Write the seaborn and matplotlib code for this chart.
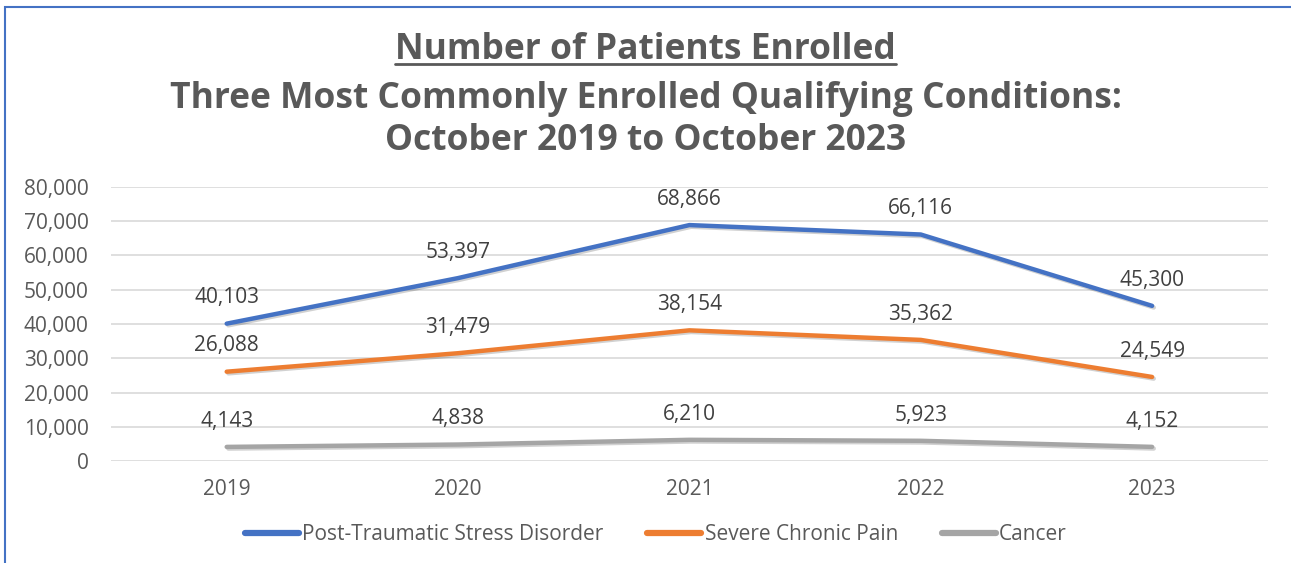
import matplotlib
matplotlib.use("Agg")
import matplotlib.pyplot as plt
import matplotlib.patheffects as pe
from matplotlib.lines import Line2D
from matplotlib.patches import Rectangle
import pandas as pd
import seaborn as sns

years = ["2019", "2020", "2021", "2022", "2023"]
ptsd = [40103, 53397, 68866, 66116, 45300]
pain = [26088, 31479, 38154, 35362, 24549]
cancer = [4143, 4838, 6210, 5923, 4152]
series_names = ["Post-Traumatic Stress Disorder", "Severe Chronic Pain", "Cancer"]
colors = ["#4472C4", "#ED7D31", "#A5A5A5"]

df = pd.DataFrame({
    "Year": years * 3,
    "Patients": ptsd + pain + cancer,
    "Condition": [n for n in series_names for _ in years],
})

sns.set_style("white")
plt.rcParams["font.family"] = ["Open Sans", "DejaVu Sans"]
text_col = "#595959"

fig = plt.figure(figsize=(12.91, 5.63), dpi=100)
ax = fig.add_axes([0.086, 0.181, 0.896, 0.487])

sns.lineplot(data=df, x="Year", y="Patients", hue="Condition", palette=colors,
             linewidth=3.2, ax=ax, sort=False, legend=False)
for line in ax.lines:
    line.set_solid_capstyle("round")
    line.set_path_effects([pe.SimpleLineShadow(offset=(1.2, -1.2), alpha=0.18, rho=0.5), pe.Normal()])

ax.set_ylim(0, 80000)
ax.set_xlim(-0.5, 4.5)
ax.set_yticks(range(0, 80001, 10000))
ax.set_yticklabels([f"{v:,}" for v in range(0, 80001, 10000)])
ax.grid(axis="y", color="#D9D9D9", linewidth=1.2)
ax.set_axisbelow(True)
for s in ax.spines.values():
    s.set_visible(False)
ax.tick_params(axis="both", length=0, labelsize=15, labelcolor=text_col)
ax.tick_params(axis="x", pad=13)
ax.tick_params(axis="y", pad=16)
ax.set_xlabel("")
ax.set_ylabel("")

for vals in (ptsd, pain, cancer):
    for i, v in enumerate(vals):
        ax.annotate(f"{v:,}", (i, v), xytext=(0, 11), textcoords="offset points",
                    ha="center", va="bottom", fontsize=15, color="#404040")

handles = [Line2D([0], [0], color=c, linewidth=4.5, solid_capstyle="round") for c in colors]
fig.legend(handles, series_names, loc="center", bbox_to_anchor=(0.508, 0.05), ncol=3,
           frameon=False, fontsize=15, labelcolor=text_col, handlelength=2.6,
           handletextpad=0.15, columnspacing=2.1)

t1 = fig.text(0.5, 0.912, "Number of Patients Enrolled", ha="center", va="center",
              fontsize=25.5, fontweight="bold", color=text_col)
fig.text(0.5, 0.825, "Three Most Commonly Enrolled Qualifying Conditions:", ha="center",
         va="center", fontsize=25.5, fontweight="bold", color=text_col)
fig.text(0.5, 0.750, "October 2019 to October 2023", ha="center", va="center",
         fontsize=25.5, fontweight="bold", color=text_col)

fig.canvas.draw()
bb = t1.get_window_extent().transformed(fig.transFigure.inverted())
fig.add_artist(Line2D([bb.x0, bb.x1], [bb.y0 + 0.006, bb.y0 + 0.006], color=text_col,
                      linewidth=2, transform=fig.transFigure))

fig.add_artist(Rectangle((0.004, -0.05), 1.1, 1.037, transform=fig.transFigure,
                         fill=False, edgecolor="#4472C4", linewidth=1.5))

fig.savefig("out.png", dpi=100)
